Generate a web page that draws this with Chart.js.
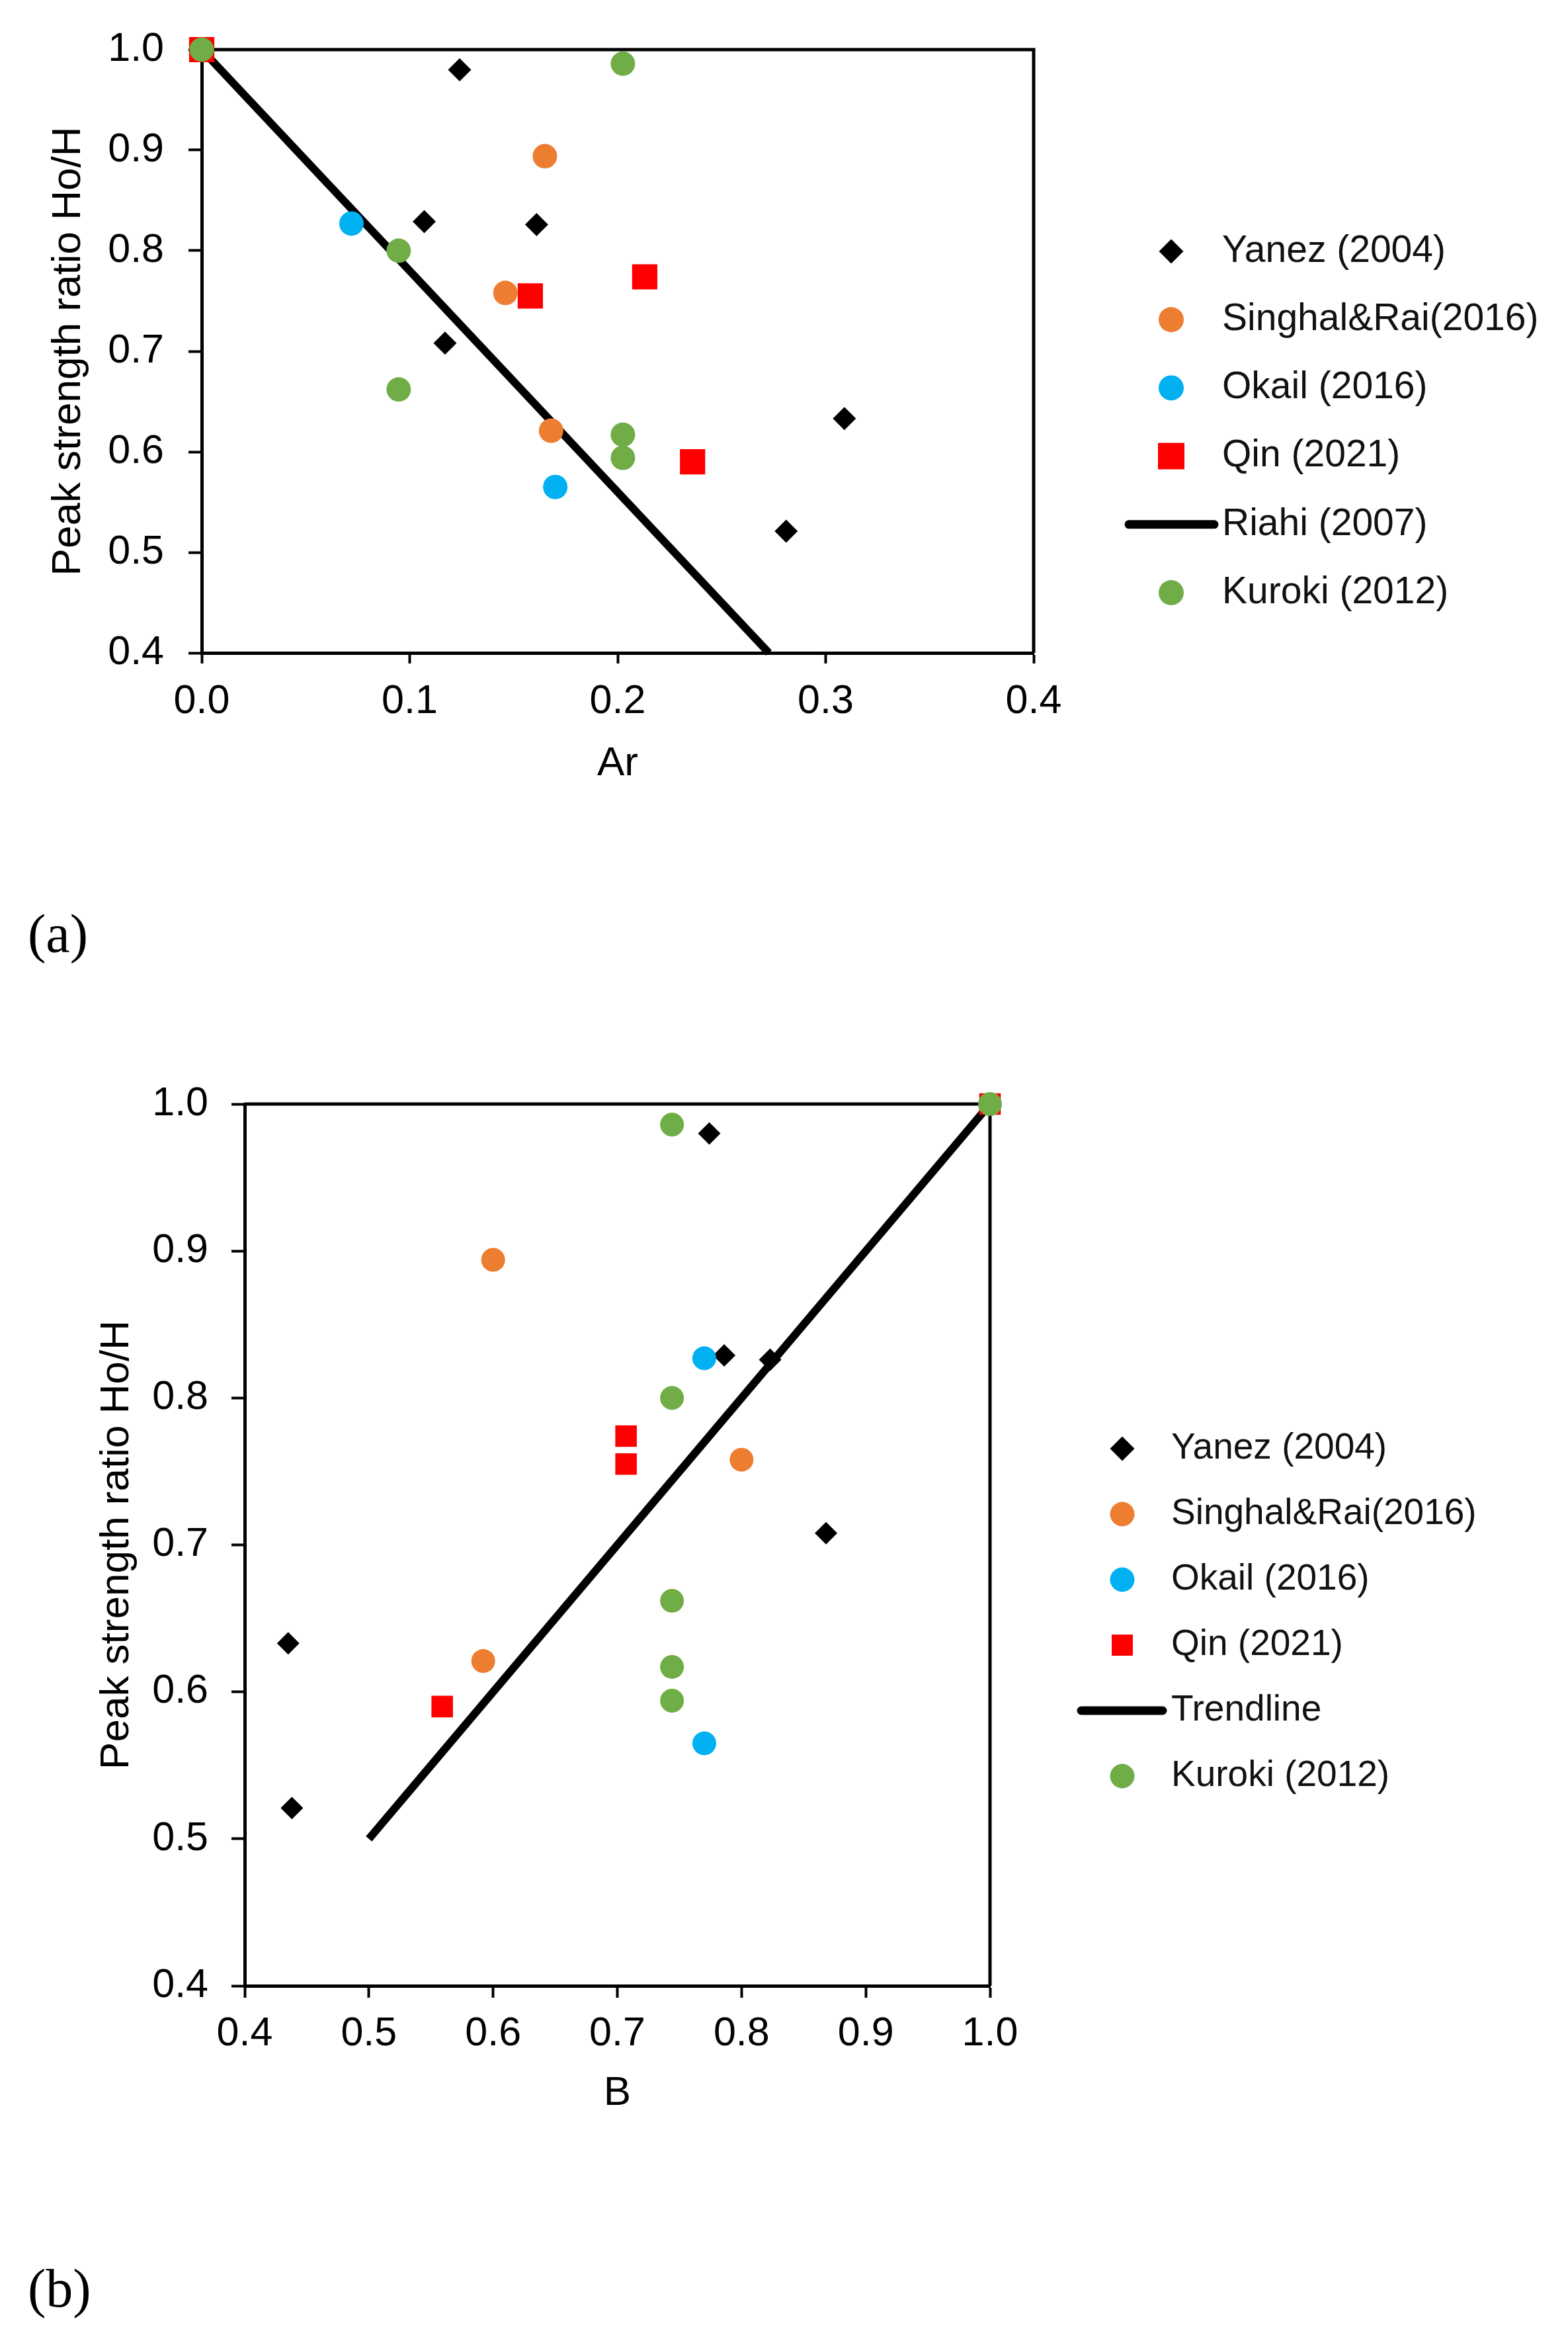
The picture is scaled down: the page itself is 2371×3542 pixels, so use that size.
<!DOCTYPE html>
<html>
<head>
<meta charset="utf-8">
<script src="https://cdn.jsdelivr.net/npm/chart.js@4.4.1/dist/chart.umd.min.js"></script>
<style>
html,body{margin:0;padding:0;background:#fff;}
body{width:2371px;height:3542px;position:relative;overflow:hidden;}
canvas{position:absolute;left:0;}
#ca{top:0;}
#cb{top:1550px;}
.lab{position:absolute;left:42px;font-family:'Liberation Serif','Times New Roman',serif;font-size:82px;line-height:82px;color:#000;}
</style>
</head>
<body>
<canvas id="ca" width="2371" height="1250"></canvas>
<canvas id="cb" width="2371" height="1750"></canvas>
<div class="lab" style="top:1371px">(a)</div>
<div class="lab" style="top:3419px">(b)</div>
<script>
// ---------- data ----------
const namesA = ['Yanez (2004)', 'Singhal&Rai(2016)', 'Okail (2016)', 'Qin (2021)', 'Riahi (2007)', 'Kuroki (2012)'];
const namesB = ['Yanez (2004)', 'Singhal&Rai(2016)', 'Okail (2016)', 'Qin (2021)', 'Trendline', 'Kuroki (2012)'];

const yanezAr = [0.124, 0.107, 0.161, 0.117, 0.309, 0.281];
const yanezB  = [0.774, 0.786, 0.823, 0.868, 0.435, 0.438];
const yanezHo = [0.980, 0.829, 0.826, 0.708, 0.633, 0.521];

const singhalAr = [0.165, 0.146, 0.168];
const singhalB  = [0.600, 0.800, 0.592];
const singhalHo = [0.894, 0.758, 0.621];

const okailAr = [0.072, 0.170];
const okailB  = [0.770, 0.770];
const okailHo = [0.827, 0.565];

const qinAr = [0.0, 0.158, 0.213, 0.236];
const qinB  = [1.0, 0.707, 0.707, 0.559];
const qinHo = [1.0, 0.755, 0.774, 0.590];

const kurokiAr = [0.0, 0.2025, 0.0947, 0.0947, 0.2025, 0.2025];
const kurokiB  = [1.0, 0.744, 0.744, 0.744, 0.744, 0.744];
const kurokiHo = [1.0, 0.986, 0.800, 0.662, 0.617, 0.594];

const riahiAr = [0.0, 0.2727];
const riahiHo = [1.0, 0.4];

const trendB  = [0.5, 1.0];
const trendHo = [0.5, 1.0];

const xTicksA = [0.0, 0.1, 0.2, 0.3, 0.4];
const xTickLabelsA = ['0.0', '0.1', '0.2', '0.3', '0.4'];
const xTicksB = [0.4, 0.5, 0.6, 0.7, 0.8, 0.9, 1.0];
const xTickLabelsB = ['0.4', '0.5', '0.6', '0.7', '0.8', '0.9', '1.0'];
const yTicks = [0.4, 0.5, 0.6, 0.7, 0.8, 0.9, 1.0];
const yTickLabels = ['0.4', '0.5', '0.6', '0.7', '0.8', '0.9', '1.0'];

// ---------- helpers ----------
const FONT = "'Liberation Sans', Arial, sans-serif";
Chart.defaults.font.family = FONT;
Chart.defaults.color = '#000';

const zip = (xs, ys) => xs.map((x, i) => ({x: x, y: ys[i]}));

const colors = {yanez: '#000000', singhal: '#ED7D31', okail: '#00B0F0', qin: '#FF0000', kuroki: '#70AD47'};

function drawMarker(ctx, type, color, x, y, r) {
  ctx.fillStyle = color;
  ctx.strokeStyle = color;
  ctx.beginPath();
  if (type === 'diamond') {
    ctx.moveTo(x - r, y); ctx.lineTo(x, y - r); ctx.lineTo(x + r, y); ctx.lineTo(x, y + r); ctx.closePath(); ctx.fill();
  } else if (type === 'circle') {
    ctx.arc(x, y, r, 0, Math.PI * 2); ctx.fill();
  } else if (type === 'square') {
    ctx.rect(x - r, y - r, 2 * r, 2 * r); ctx.fill();
  }
}

function legendPlugin(names, o) {
  const types = ['diamond', 'circle', 'circle', 'square', 'line', 'circle'];
  const cols = [colors.yanez, colors.singhal, colors.okail, colors.qin, '#000', colors.kuroki];
  const sizes = [o.rd, o.rc, o.rc, o.rs, 0, o.rc];
  return {
    id: 'customLegend',
    afterDraw(chart) {
      const ctx = chart.ctx;
      ctx.save();
      names.forEach((name, i) => {
        const y = o.y0 + i * o.dy;
        if (types[i] === 'line') {
          ctx.strokeStyle = '#000';
          ctx.lineWidth = o.lw;
          ctx.lineCap = 'round';
          ctx.beginPath(); ctx.moveTo(o.l0, y); ctx.lineTo(o.l1, y); ctx.stroke();
        } else {
          drawMarker(ctx, types[i], cols[i], o.mx, y, sizes[i]);
        }
        ctx.fillStyle = '#111';
        ctx.font = o.fs + 'px ' + FONT;
        ctx.textAlign = 'left';
        ctx.textBaseline = 'middle';
        ctx.fillText(name, o.tx, y);
      });
      ctx.restore();
    }
  };
}

const frameBox = {
  id: 'frameBox',
  beforeDatasetsDraw(chart) {
    const a = chart.chartArea, ctx = chart.ctx;
    ctx.save();
    ctx.strokeStyle = '#000';
    ctx.lineWidth = 5;
    ctx.beginPath();
    ctx.moveTo(a.left, a.top); ctx.lineTo(a.right, a.top); ctx.lineTo(a.right, a.bottom);
    ctx.stroke();
    ctx.restore();
  }
};

function makeDatasets(xs, names, lineX, lineY, m) {
  const base = {clip: false, borderWidth: 0, pointBorderWidth: 0, pointHoverRadius: 0};
  return [
    Object.assign({}, base, {label: names[0], data: zip(xs.yanez, yanezHo), pointStyle: 'rectRot', pointRadius: m.rd, backgroundColor: colors.yanez, pointBackgroundColor: colors.yanez, order: 4}),
    Object.assign({}, base, {label: names[1], data: zip(xs.singhal, singhalHo), pointStyle: 'circle', pointRadius: m.rc, backgroundColor: colors.singhal, pointBackgroundColor: colors.singhal, order: 3}),
    Object.assign({}, base, {label: names[2], data: zip(xs.okail, okailHo), pointStyle: 'circle', pointRadius: m.rc, backgroundColor: colors.okail, pointBackgroundColor: colors.okail, order: 2}),
    Object.assign({}, base, {label: names[3], data: zip(xs.qin, qinHo), pointStyle: 'rect', pointRadius: m.rs, backgroundColor: colors.qin, pointBackgroundColor: colors.qin, order: 1}),
    {label: names[4], data: zip(lineX, lineY), showLine: true, pointRadius: 0, pointHoverRadius: 0, borderColor: '#000', borderWidth: m.lw, backgroundColor: '#000', clip: false, order: 5},
    Object.assign({}, base, {label: names[5], data: zip(xs.kuroki, kurokiHo), pointStyle: 'circle', pointRadius: m.rc, backgroundColor: colors.kuroki, pointBackgroundColor: colors.kuroki, order: 0})
  ];
}

function axisX(o) {
  return {
    type: 'linear', position: 'bottom', min: o.min, max: o.max,
    afterBuildTicks: s => { s.ticks = o.vals.map(v => ({value: v})); },
    afterFit: s => { s.height = o.h; },
    ticks: {callback: (v, i) => o.labels[i], font: {size: 61}, color: '#000', padding: o.pad, maxRotation: 0, autoSkip: false},
    grid: {display: true, drawOnChartArea: false, drawTicks: true, tickLength: o.tl, tickWidth: 4, tickColor: '#000'},
    border: {display: true, color: '#000', width: 5},
    title: {display: true, text: o.title, font: {size: 62}, color: '#000', padding: {top: 0, bottom: o.tpad}}
  };
}
function axisY(o) {
  return {
    type: 'linear', position: 'left', min: 0.4, max: 1.0,
    afterBuildTicks: s => { s.ticks = yTicks.map(v => ({value: v})); },
    afterFit: s => { s.width = o.w; },
    ticks: {callback: (v, i) => yTickLabels[i], font: {size: 61}, color: '#000', padding: o.pad, autoSkip: false},
    grid: {display: true, drawOnChartArea: false, drawTicks: true, tickLength: o.tl, tickWidth: 4, tickColor: '#000'},
    border: {display: true, color: '#000', width: 5},
    title: {display: true, text: 'Peak strength ratio Ho/H', font: {size: 62}, color: '#000', padding: {top: o.tpad, bottom: 0}}
  };
}

// ---------- chart (a) ----------
const mA = {rd: 17.5, rc: 18.5, rs: 27, lw: 12};
new Chart(document.getElementById('ca'), {
  type: 'scatter',
  data: {datasets: makeDatasets({yanez: yanezAr, singhal: singhalAr, okail: okailAr, qin: qinAr, kuroki: kurokiAr}, namesA, riahiAr, riahiHo, mA)},
  options: {
    responsive: false, animation: false, devicePixelRatio: 1, events: [],
    layout: {padding: {left: 0, top: 75, right: 808, bottom: 0}},
    plugins: {legend: {display: false}, tooltip: {enabled: false}},
    scales: {
      x: axisX({min: 0, max: 0.4, vals: xTicksA, labels: xTickLabelsA, h: 263, pad: 22, tl: 16, title: 'Ar', tpad: 58}),
      y: axisY({w: 305, pad: 37, tl: 20, tpad: 67})
    }
  },
  plugins: [frameBox, legendPlugin(namesA, {y0: 380, dy: 103.2, mx: 1771, tx: 1848, l0: 1707, l1: 1836, lw: 13, fs: 57, rd: 18.5, rc: 19, rs: 20})]
});

// ---------- chart (b) ----------
const mB = {rd: 17, rc: 18, rs: 23, lw: 12};
new Chart(document.getElementById('cb'), {
  type: 'scatter',
  data: {datasets: makeDatasets({yanez: yanezB, singhal: singhalB, okail: okailB, qin: qinB, kuroki: kurokiB}, namesB, trendB, trendHo, mB)},
  options: {
    responsive: false, animation: false, devicePixelRatio: 1, events: [],
    layout: {padding: {left: 0, top: 119, right: 874, bottom: 0}},
    plugins: {legend: {display: false}, tooltip: {enabled: false}},
    scales: {
      x: axisX({min: 0.4, max: 1.0, vals: xTicksB, labels: xTickLabelsB, h: 298, pad: 19, tl: 18, title: 'B', tpad: 98}),
      y: axisY({w: 370, pad: 35, tl: 20, tpad: 140})
    }
  },
  plugins: [frameBox, legendPlugin(namesB, {y0: 640, dy: 99, mx: 1697, tx: 1771, l0: 1635, l1: 1758, lw: 13, fs: 55, rd: 18.5, rc: 18.5, rs: 16})]
});
</script>
</body>
</html>
